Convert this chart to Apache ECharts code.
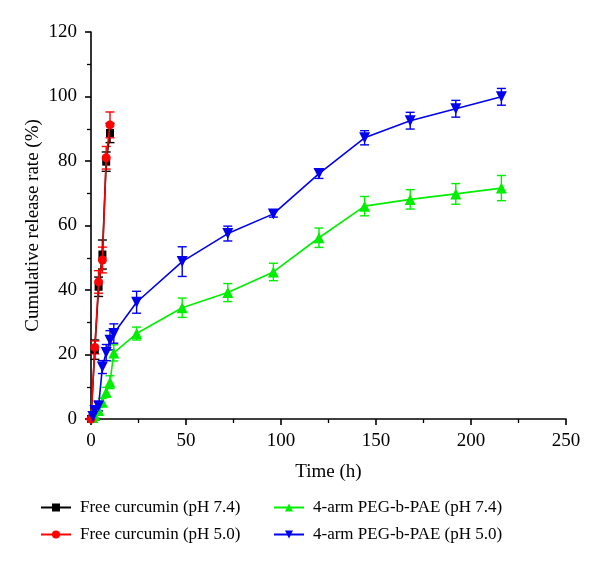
<!DOCTYPE html>
<html>
<head>
<meta charset="utf-8">
<script src="https://cdn.jsdelivr.net/npm/echarts@6/dist/echarts.min.js"></script>
<style>html,body{margin:0;padding:0;background:#fff;}#c{width:600px;height:565px;}</style>
</head>
<body>
<div id="c"></div>
<script>
// ---- data ----
const freeTimes = [0, 2, 4, 6, 8, 10];
const free74 = [0, 21.5, 41, 51, 79.8, 88.7];
const free74Err = [0, 3, 3, 4.5, 3, 3];
const free50 = [0, 22.2, 42.5, 49.3, 81, 91.2];
const free50Err = [0, 2, 3.5, 4, 3.5, 4];

const polyTimes = [1, 2, 4, 6, 8, 10, 12, 24, 48, 72, 96, 120, 144, 168, 192, 216];
const peg74 = [0.5, 1.1, 2.6, 5.2, 8.3, 11.4, 20.5, 26.5, 34.5, 39.2, 45.6, 56.2, 66, 68.1, 69.8, 71.6];
const peg74Err = [0.5, 0.8, 1, 1.2, 1.5, 2, 2.5, 2, 3, 2.8, 2.7, 3, 3, 3, 3.2, 3.9];
const peg50 = [0.8, 2.6, 4, 16.1, 20.6, 24.4, 26.5, 36.2, 48.8, 57.5, 63.6, 76.1, 87.2, 92.5, 96.2, 99.9];
const peg50Err = [0.5, 1, 1.5, 2, 2.5, 3, 3, 3.4, 4.6, 2.3, 1, 1.5, 2.2, 2.6, 2.6, 2.6];

const names = ['Free curcumin (pH 7.4)', 'Free curcumin (pH 5.0)', '4-arm PEG-b-PAE (pH 7.4)', '4-arm PEG-b-PAE (pH 5.0)'];
const colors = ['#000000', '#ff0000', '#00ee00', '#0000ee'];
const xTicks = [0, 50, 100, 150, 200, 250];
const yTicks = [0, 20, 40, 60, 80, 100, 120];

const FONT = '"Liberation Serif", "DejaVu Serif", serif';

function pairs(t, v) { return t.map((x, i) => [x, v[i]]); }
function errData(t, v, e) { return t.map((x, i) => [x, v[i] - e[i], v[i] + e[i]]); }

function errSeries(name, t, v, e, color) {
  return {
    type: 'custom',
    name: name + ' error',
    color: color,
    data: errData(t, v, e),
    encode: { x: 0, y: [1, 2] },
    z: 1,
    silent: true,
    renderItem: function (params, api) {
      const x = api.value(0);
      const lo = api.coord([x, api.value(1)]);
      const hi = api.coord([x, api.value(2)]);
      const hw = 4.5;
      const st = { stroke: color, lineWidth: 1.4 };
      return {
        type: 'group',
        children: [
          { type: 'line', shape: { x1: lo[0], y1: lo[1], x2: hi[0], y2: hi[1] }, style: st },
          { type: 'line', shape: { x1: lo[0] - hw, y1: lo[1], x2: lo[0] + hw, y2: lo[1] }, style: st },
          { type: 'line', shape: { x1: hi[0] - hw, y1: hi[1], x2: hi[0] + hw, y2: hi[1] }, style: st }
        ]
      };
    }
  };
}

function lineSeries(name, t, v, color, symbol, size, rotate, z) {
  return {
    type: 'line',
    name: name,
    data: pairs(t, v),
    symbol: symbol,
    symbolSize: size,
    symbolRotate: rotate,
    showAllSymbol: true,
    color: color,
    lineStyle: { color: color, width: 1.6 },
    itemStyle: { color: color },
    z: z,
    animation: false
  };
}

const legendText = { fontFamily: FONT, fontSize: 17, color: '#000', padding: [0, 0, 0, 4] };

const chart = echarts.init(document.getElementById('c'), null, { renderer: 'canvas' });
chart.setOption({
  animation: false,
  backgroundColor: '#fff',
  textStyle: { fontFamily: FONT },
  grid: { left: 91, right: 34, top: 32, bottom: 146, containLabel: false },
  xAxis: {
    type: 'value', min: xTicks[0], max: xTicks[xTicks.length - 1], interval: 50,
    name: 'Time (h)', nameLocation: 'middle', nameGap: 44, nameMoveOverlap: false,
    nameTextStyle: { fontFamily: FONT, fontSize: 19, color: '#000' },
    axisLine: { show: true, onZero: false, lineStyle: { color: '#000', width: 1.6 } },
    axisTick: { show: true, inside: false, length: 6, lineStyle: { color: '#000', width: 1.6 } },
    minorTick: { show: true, splitNumber: 2, length: 4, lineStyle: { color: '#000', width: 1.3 } },
    axisLabel: { fontFamily: FONT, fontSize: 19, color: '#000', margin: 13 },
    splitLine: { show: false }
  },
  yAxis: {
    type: 'value', min: yTicks[0], max: yTicks[yTicks.length - 1], interval: 20,
    name: 'Cumulative release rate (%)', nameLocation: 'middle', nameGap: 48, nameMoveOverlap: false,
    nameTextStyle: { fontFamily: FONT, fontSize: 19, color: '#000' },
    axisLine: { show: true, onZero: false, lineStyle: { color: '#000', width: 1.6 } },
    axisTick: { show: true, inside: false, length: 6, lineStyle: { color: '#000', width: 1.6 } },
    minorTick: { show: true, splitNumber: 2, length: 4, lineStyle: { color: '#000', width: 1.3 } },
    axisLabel: { fontFamily: FONT, fontSize: 19, color: '#000', margin: 14 },
    splitLine: { show: false }
  },
  legend: [
    {
      data: [names[0], names[1]], orient: 'vertical', left: 40, top: 499, padding: 0,
      itemWidth: 30, itemHeight: 10, itemGap: 10,
      textStyle: legendText
    },
    {
      data: [names[2], names[3]], orient: 'vertical', left: 273, top: 499, padding: 0,
      itemWidth: 30, itemHeight: 10, itemGap: 10,
      textStyle: legendText
    }
  ],
  series: [
    errSeries(names[0], freeTimes, free74, free74Err, colors[0]),
    errSeries(names[1], freeTimes, free50, free50Err, colors[1]),
    errSeries(names[2], polyTimes, peg74, peg74Err, colors[2]),
    errSeries(names[3], polyTimes, peg50, peg50Err, colors[3]),
    lineSeries(names[0], freeTimes, free74, colors[0], 'rect', 8, 0, 3),
    lineSeries(names[1], freeTimes, free50, colors[1], 'circle', 9, 0, 4),
    lineSeries(names[2], polyTimes, peg74, colors[2], 'triangle', 11, 0, 3),
    lineSeries(names[3], polyTimes, peg50, colors[3], 'triangle', 11, 180, 4)
  ]
});
</script>
</body>
</html>
